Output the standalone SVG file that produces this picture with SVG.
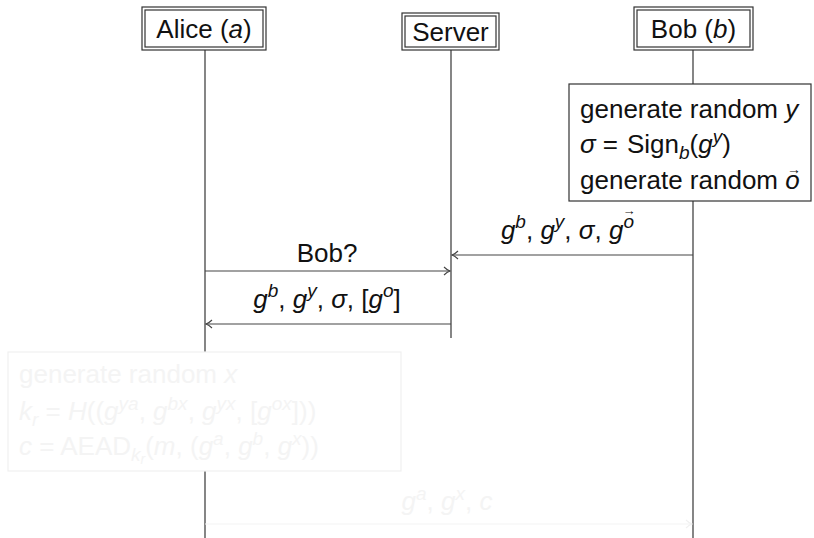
<svg xmlns="http://www.w3.org/2000/svg" width="814" height="538" viewBox="0 0 814 538">
<defs>
<style>
.t{font-family:"Liberation Sans",Arial,sans-serif;font-size:26px;fill:#111}
.i{font-style:italic}
.s{font-size:19px}
.ss{font-size:14px}
.vec{font-family:"Liberation Sans",Arial,sans-serif;fill:#111}
.box{fill:#fff;stroke:#333;stroke-width:1.2}
.life{stroke:#444;stroke-width:1.3}
.msg{stroke:#444;stroke-width:1.2;fill:none}
.fbox{fill:#fff;stroke:#f0f0f0;stroke-width:1.2}
.ft{fill:#f4f4f4}
.fmsg{stroke:#f3f3f3;stroke-width:1.2;fill:none}
</style>
<marker id="arr" viewBox="0 0 10 10" refX="9" refY="5" markerWidth="10" markerHeight="10" markerUnits="userSpaceOnUse" orient="auto">
<path d="M3,1 Q6,4 9,5 Q6,6 3,9" fill="none" stroke="#444" stroke-width="1.1"/>
</marker>
<marker id="farr" viewBox="0 0 10 10" refX="9" refY="5" markerWidth="10" markerHeight="10" markerUnits="userSpaceOnUse" orient="auto">
<path d="M3,1 Q6,4 9,5 Q6,6 3,9" fill="none" stroke="#f0f0f0" stroke-width="1.1"/>
</marker>
</defs>
<rect width="814" height="538" fill="#fff"/>

<g id="lifelines">
<line class="life" x1="205" y1="50" x2="205" y2="538"/>
<line class="life" x1="451" y1="50" x2="451" y2="338"/>
<line class="life" x1="693" y1="50" x2="693" y2="538"/>
</g>

<g id="alice">
<rect class="box" x="142" y="7" width="124" height="43"/>
<rect class="box" x="145" y="10" width="118" height="37"/>
<text class="t" x="204" y="38" text-anchor="middle">Alice (<tspan class="i">a</tspan>)</text>
</g>

<g id="server">
<rect class="box" x="402" y="13" width="97" height="37"/>
<rect class="box" x="405" y="16" width="91" height="31"/>
<text class="t" x="450.5" y="41" text-anchor="middle">Server</text>
</g>

<g id="bob">
<rect class="box" x="634" y="7" width="119" height="43"/>
<rect class="box" x="637" y="10" width="113" height="37"/>
<text class="t" x="693.5" y="38" text-anchor="middle">Bob (<tspan class="i">b</tspan>)</text>
</g>

<g id="bob-action">
<rect class="box" x="569" y="84" width="242" height="117"/>
<text class="t" x="580" y="118">generate random <tspan class="i">y</tspan></text>
<text class="t" x="580" y="153"><tspan class="i">σ</tspan><tspan dx="7">=</tspan><tspan dx="9">Sign</tspan><tspan class="i s" dy="6">b</tspan><tspan dy="-6">(</tspan><tspan class="i">g</tspan><tspan class="i s" dy="-10">y</tspan><tspan dy="10">)</tspan></text>
<text class="t" x="580" y="189">generate random <tspan class="i">o</tspan></text>
<text class="vec" x="794" y="174" font-size="14" text-anchor="middle">→</text>
</g>

<g id="alice-action">
<rect class="fbox" x="8" y="352" width="393" height="119"/>
<text class="t ft" x="19" y="383">generate random <tspan class="i">x</tspan></text>
<text class="t ft" x="19" y="420"><tspan class="i">k</tspan><tspan class="i s" dy="6">r</tspan><tspan dy="-6"> = </tspan><tspan class="i">H</tspan>((<tspan class="i">g</tspan><tspan class="i s" dy="-10">ya</tspan><tspan dy="10">, </tspan><tspan class="i">g</tspan><tspan class="i s" dy="-10">bx</tspan><tspan dy="10">, </tspan><tspan class="i">g</tspan><tspan class="i s" dy="-10">yx</tspan><tspan dy="10">, [</tspan><tspan class="i">g</tspan><tspan class="i s" dy="-10">ox</tspan><tspan dy="10">]))</tspan></text>
<text class="t ft" x="19" y="455"><tspan class="i">c</tspan> = AEAD<tspan class="i s" dy="6">k</tspan><tspan class="i ss" dy="3">r</tspan><tspan dy="-9">(</tspan><tspan class="i">m</tspan>, (<tspan class="i">g</tspan><tspan class="i s" dy="-10">a</tspan><tspan dy="10">, </tspan><tspan class="i">g</tspan><tspan class="i s" dy="-10">b</tspan><tspan dy="10">, </tspan><tspan class="i">g</tspan><tspan class="i s" dy="-10">x</tspan><tspan dy="10">))</tspan></text>
</g>

<g id="connectors">
<line class="msg" x1="693" y1="255" x2="452" y2="255" marker-end="url(#arr)"/>
<text class="t" x="634" y="239" text-anchor="end"><tspan class="i">g</tspan><tspan class="i s" dy="-11">b</tspan><tspan dy="11">, </tspan><tspan class="i">g</tspan><tspan class="i s" dy="-11">y</tspan><tspan dy="11">, </tspan><tspan class="i">σ</tspan>, <tspan class="i">g</tspan><tspan class="i s" dy="-11">o</tspan></text>
<text class="vec" x="629" y="215" font-size="13" text-anchor="middle">→</text>

<line class="msg" x1="205" y1="271" x2="450" y2="271" marker-end="url(#arr)"/>
<text class="t" x="327" y="262" text-anchor="middle">Bob?</text>

<line class="msg" x1="451" y1="324" x2="206" y2="324" marker-end="url(#arr)"/>
<text class="t" x="327" y="308" text-anchor="middle"><tspan class="i">g</tspan><tspan class="i s" dy="-11">b</tspan><tspan dy="11">, </tspan><tspan class="i">g</tspan><tspan class="i s" dy="-11">y</tspan><tspan dy="11">, </tspan><tspan class="i">σ</tspan>, [<tspan class="i">g</tspan><tspan class="i s" dy="-11">o</tspan><tspan dy="11">]</tspan></text>

<line class="fmsg" x1="205" y1="524" x2="692" y2="524" marker-end="url(#farr)"/>
<text class="t ft" x="447" y="510" text-anchor="middle"><tspan class="i">g</tspan><tspan class="i s" dy="-10">a</tspan><tspan dy="10">, </tspan><tspan class="i">g</tspan><tspan class="i s" dy="-10">x</tspan><tspan dy="10">, </tspan><tspan class="i">c</tspan></text>
</g>
</svg>
